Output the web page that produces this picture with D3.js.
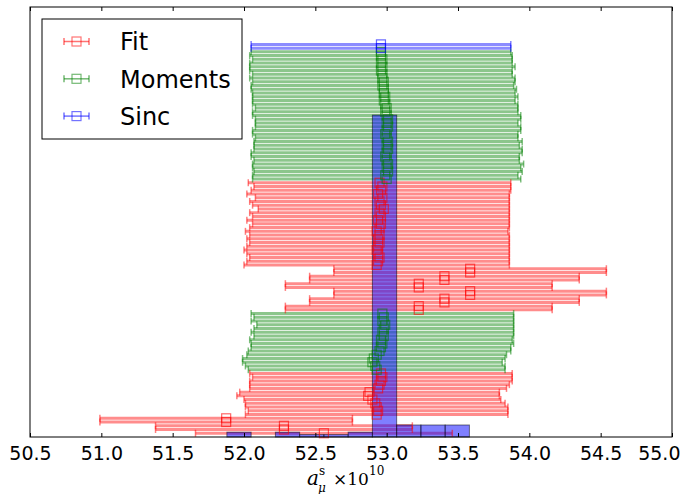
<!DOCTYPE html>
<html>
<head>
<meta charset="utf-8">
<script src="https://d3js.org/d3.v7.min.js"></script>
<style>
  body { margin: 0; background: #fff; }
  svg { display: block; font-family: "DejaVu Sans", sans-serif; }
</style>
</head>
<body>
<script>
// ---- data ----
var xTicks = [50.5, 51.0, 51.5, 52.0, 52.5, 53.0, 53.5, 54.0, 54.5, 55.0];

// Fit rows: row position (from bottom), centre, half width
var fitPos = [68,67,66,65,64,63,62,61,60,59,58,57,56,55,54,53,52,51,50,49,48,47,46,
              45,44,43,42,41,40,39,38,37,36,35,34,
              17,16,15,14,13,12,11,10,9,8,7,6,
              5,4,3,2,1];
var fitCenter = [52.95,52.97,52.96,52.94,52.97,52.95,52.96,52.98,52.95,52.96,52.94,52.96,52.95,52.93,52.95,52.94,52.95,52.94,52.93,52.94,52.95,52.94,52.93,
                 53.585,53.585,53.405,53.405,53.225,53.225,53.585,53.585,53.405,53.405,53.225,53.225,
                 52.96,52.97,52.96,52.95,52.94,52.88,52.87,52.90,52.92,52.93,52.94,52.93,
                 51.875,51.875,52.28,52.28,52.56];
var fitErr = [0.92,0.90,0.91,0.92,0.89,0.91,0.90,0.88,0.91,0.90,0.92,0.90,0.91,0.92,0.91,0.92,0.91,0.92,0.93,0.92,0.91,0.92,0.93,
              0.955,0.955,0.945,0.945,0.935,0.935,0.955,0.955,0.945,0.945,0.935,0.935,
              0.92,0.91,0.92,0.91,0.90,0.91,0.92,0.90,0.91,0.92,0.91,0.92,
              0.885,0.885,0.90,0.90,0.90];

// Moments rows
var momentsPos = [103,102,101,100,99,98,97,96,95,94,93,92,91,90,89,88,87,86,85,84,83,82,81,80,79,78,77,76,75,74,73,72,71,70,69,
                  33,32,31,30,29,28,27,26,25,24,23,22,21,20,19,18];
var momentsCenter = [52.96,52.96,52.97,52.96,52.97,52.96,52.97,52.97,52.98,52.97,52.98,52.98,52.99,52.98,52.99,53.00,52.99,53.00,53.01,53.00,53.01,53.00,52.99,53.00,53.01,53.00,53.01,53.00,52.99,53.00,53.01,53.00,53.01,52.99,53.00,
                     52.97,52.98,52.97,52.99,52.98,52.97,52.98,52.96,52.97,52.96,52.95,52.93,52.91,52.90,52.92,52.93];
var momentsErr = [0.91,0.92,0.91,0.92,0.93,0.92,0.91,0.93,0.92,0.92,0.93,0.92,0.93,0.92,0.93,0.92,0.93,0.94,0.93,0.92,0.93,0.94,0.93,0.92,0.94,0.93,0.94,0.95,0.94,0.93,0.95,0.94,0.94,0.93,0.94,
                  0.92,0.91,0.92,0.90,0.91,0.92,0.91,0.92,0.92,0.91,0.92,0.91,0.92,0.91,0.91,0.90];

// Sinc rows
var sincPos = [105, 104];
var sincCenter = [52.96, 52.96];
var sincErr = [0.91, 0.91];

// histogram of the results (bin edges and counts)
var histEdges = [51.88, 52.05, 52.22, 52.39, 52.56, 52.73, 52.90, 53.07, 53.24, 53.41, 53.58];
var histCounts = [2, 0, 2, 1, 1, 2, 134, 5, 5, 5];

var seriesNames = ["Fit", "Moments", "Sinc"];
var seriesColors = ["#ff0000", "#008000", "#0000ff"];

// ---- layout ----
var width = 681, height = 494;
var mLeft = 30, mRight = 672, mTop = 7, mBottom = 437;

var svg = d3.select("body").append("svg")
    .attr("width", width)
    .attr("height", height);

var x = d3.scaleLinear().domain([50.5, 55.0]).range([mLeft, mRight]);
var y = d3.scaleLinear().domain([0, 115]).range([mBottom, mTop]);
var yCount = d3.scaleLinear().domain([0, 179]).range([mBottom, mTop]);

function rows(pos, c, e) {
    return pos.map(function(p, i) { return {p: p, c: c[i], e: e[i]}; });
}
var allSeries = [
    rows(fitPos, fitCenter, fitErr),
    rows(momentsPos, momentsCenter, momentsErr),
    rows(sincPos, sincCenter, sincErr)
];

var lineLayer = svg.append("g");
var histLayer = svg.append("g");
var markLayer = svg.append("g");

//error bar lines
allSeries.forEach(function(data, k) {
    var col = seriesColors[k];
    lineLayer.append("g").selectAll("line").data(data).enter().append("line")
        .attr("x1", function(d) { return x(d.c - d.e); })
        .attr("x2", function(d) { return x(d.c + d.e); })
        .attr("y1", function(d) { return y(d.p); })
        .attr("y2", function(d) { return y(d.p); })
        .attr("stroke", col)
        .attr("stroke-width", 3)
        .attr("stroke-opacity", 0.45);
});

//histogram
var bins = histCounts.map(function(n, i) { return {x0: histEdges[i], x1: histEdges[i + 1], n: n}; })
    .filter(function(b) { return b.n > 0; });
histLayer.selectAll("rect").data(bins).enter().append("rect")
    .attr("x", function(d) { return x(d.x0); })
    .attr("width", function(d) { return x(d.x1) - x(d.x0); })
    .attr("y", function(d) { return yCount(d.n); })
    .attr("height", function(d) { return mBottom - yCount(d.n); })
    .attr("fill", "#0000ff")
    .attr("fill-opacity", 0.5)
    .attr("stroke", "#000")
    .attr("stroke-opacity", 0.5)
    .attr("stroke-width", 1);

//caps and square markers
allSeries.forEach(function(data, k) {
    var col = seriesColors[k];
    var g = markLayer.append("g");
    [-1, 1].forEach(function(s) {
        g.append("g").selectAll("line").data(data).enter().append("line")
            .attr("x1", function(d) { return x(d.c + s * d.e); })
            .attr("x2", function(d) { return x(d.c + s * d.e); })
            .attr("y1", function(d) { return y(d.p) - 3.5; })
            .attr("y2", function(d) { return y(d.p) + 3.5; })
            .attr("stroke", col)
            .attr("stroke-width", 1.5)
            .attr("stroke-opacity", 0.5);
    });
    g.append("g").selectAll("rect").data(data).enter().append("rect")
        .attr("x", function(d) { return x(d.c) - 4.5; })
        .attr("y", function(d) { return y(d.p) - 4.5; })
        .attr("width", 9)
        .attr("height", 9)
        .attr("fill", "none")
        .attr("stroke", col)
        .attr("stroke-width", 1.2)
        .attr("stroke-opacity", 0.6);
});

//frame
svg.append("rect")
    .attr("x", mLeft).attr("y", mTop)
    .attr("width", mRight - mLeft).attr("height", mBottom - mTop)
    .attr("fill", "none").attr("stroke", "#000").attr("stroke-width", 1);

//x axis (ticks inside, also mirrored on the top)
var xAxis = d3.axisBottom(x).tickValues(xTicks).tickFormat(d3.format(".1f")).tickSizeInner(-4).tickSizeOuter(0).tickPadding(10);
var ax = svg.append("g").attr("transform", "translate(0," + mBottom + ")").call(xAxis);
ax.select(".domain").remove();
ax.selectAll("text").attr("font-size", 19).attr("font-family", "DejaVu Sans").attr("fill", "#000");
ax.selectAll("line").attr("stroke", "#000");
// last label is kept inside the picture, as in the reference
ax.selectAll(".tick").filter(function(d) { return d === 55.0; }).select("text")
    .attr("text-anchor", "end").attr("x", width - 1 - x(55.0));
var axTop = svg.append("g").attr("transform", "translate(0," + mTop + ")")
    .call(d3.axisTop(x).tickValues(xTicks).tickSizeInner(-4).tickSizeOuter(0).tickFormat(""));
axTop.select(".domain").remove();

//axis label  a_mu^s x10^10
var lab = svg.append("g").attr("font-family", "DejaVu Serif").attr("fill", "#000");
lab.append("text").attr("x", 307).attr("y", 485).attr("font-size", 20).attr("font-style", "italic").text("a");
lab.append("text").attr("x", 319).attr("y", 475).attr("font-size", 12).text("s");
lab.append("text").attr("x", 318).attr("y", 492).attr("font-size", 12).attr("font-style", "italic").text("μ");
lab.append("text").attr("x", 333).attr("y", 485).attr("font-size", 17).text("×10");
lab.append("text").attr("x", 369).attr("y", 475).attr("font-size", 12).text("10");

//legend
var leg = svg.append("g").attr("transform", "translate(42,19)");
leg.append("rect").attr("width", 200).attr("height", 120)
    .attr("fill", "#fff").attr("stroke", "#000").attr("stroke-width", 1);
seriesNames.forEach(function(name, k) {
    var cy = 22.5 + k * 37.3;
    var col = seriesColors[k];
    var h = leg.append("g").attr("stroke", col).attr("stroke-opacity", 0.55).attr("fill", "none");
    h.append("line").attr("x1", 22).attr("x2", 47).attr("y1", cy).attr("y2", cy).attr("stroke-width", 1.5);
    h.append("line").attr("x1", 22).attr("x2", 22).attr("y1", cy - 3.5).attr("y2", cy + 3.5).attr("stroke-width", 1.5);
    h.append("line").attr("x1", 47).attr("x2", 47).attr("y1", cy - 3.5).attr("y2", cy + 3.5).attr("stroke-width", 1.5);
    h.append("rect").attr("x", 30).attr("y", cy - 4.5).attr("width", 9).attr("height", 9).attr("stroke-width", 1.2);
    leg.append("text").attr("x", 78).attr("y", cy + 8.7)
        .attr("font-size", 24).attr("fill", "#000").text(name);
});
</script>
</body>
</html>
